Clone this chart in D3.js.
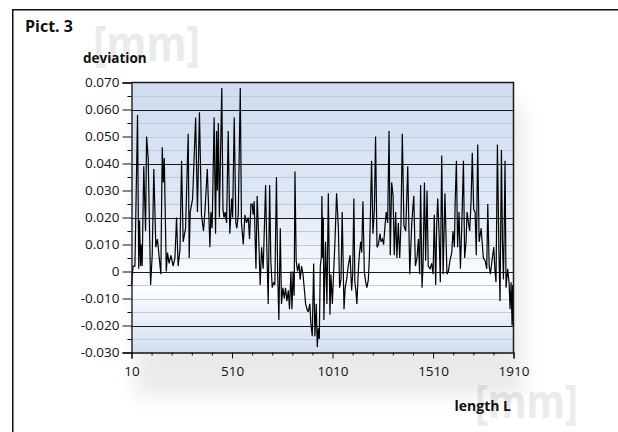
<html>
<script src="https://d3js.org/d3.v7.min.js"></script>
<style>
    body { margin: 0; background: #fff; }
    text { font-family: "Open Sans", sans-serif; fill: #111; }
    .wm { font-family: "Open Sans", sans-serif; font-weight: bold; fill: #ebebeb; }
    .lbl { font-weight: bold; }
</style>
<body>
<script>
    // measured length L [mm]
    var lengths = [10,18,27,40,46,50,55,58,63,71,80,85,93,105,113,121,131,139,156,163,168,173,183,189,197,206,217,226,234,242,251,259,267,279,292,297,302,314,329,338,348,358,368,375,387,400,405,411,421,428,433,437,442,447,459,465,470,476,483,491,499,508,513,521,529,534,541,551,557,566,574,582,591,597,604,610,615,620,629,635,642,650,657,665,677,683,690,697,703,710,717,723,731,737,743,750,756,763,770,776,783,790,796,803,808,814,819,823,829,836,843,849,856,863,869,876,883,889,897,902,909,916,922,929,934,939,944,949,954,957,961,964,967,972,975,982,989,997,1002,1009,1015,1022,1030,1039,1045,1052,1058,1067,1073,1080,1088,1097,1105,1110,1116,1121,1126,1131,1138,1143,1150,1155,1161,1168,1175,1181,1188,1193,1199,1204,1211,1218,1224,1231,1238,1246,1251,1258,1264,1271,1277,1284,1291,1297,1304,1311,1317,1324,1330,1337,1344,1350,1357,1365,1374,1384,1394,1404,1414,1422,1430,1437,1443,1448,1455,1460,1467,1473,1480,1486,1495,1503,1510,1516,1523,1528,1533,1540,1546,1553,1560,1569,1579,1586,1594,1603,1609,1616,1620,1626,1632,1639,1646,1652,1661,1667,1674,1679,1686,1692,1699,1705,1712,1719,1725,1732,1739,1749,1760,1769,1777,1782,1789,1795,1803,1812,1818,1823,1830,1837,1843,1850,1855,1860,1863,1868,1873,1881,1888,1893,1898,1903,1906,1910];

    // deviation, in thousandths of a mm
    var deviation = [-5,2,2,58,1,19,2,10,2,39,15,50,42,-5,6,38,9,12,-1,46,33,42,0,7,3,6,2,5,20,2,8,41,11,16,51,5,22,27,57,22,59,21,15,22,38,9,22,16,57,14,52,30,55,20,68,23,20,22,18,52,14,27,20,57,18,16,21,68,18,10,21,18,20,12,25,25,21,26,1,28,14,-5,9,1,32,9,-12,32,4,-6,-4,-5,35,-1,-18,16,-12,-6,-10,-6,-11,-7,-14,0,-14,0,-9,37,4,0,3,-3,2,-1,-6,-12,-14,-15,-12,-19,-24,3,-24,-12,-28,-21,-25,2,5,28,5,20,-18,0,11,-12,29,-16,-1,-12,-1,11,29,16,-6,-3,22,-14,-6,-3,2,6,-7,-1,27,-4,-7,-12,0,6,11,7,26,0,-4,-6,-3,5,23,41,14,23,50,9,10,14,11,12,10,17,22,18,52,6,33,28,6,22,5,18,5,17,51,17,15,39,-1,18,28,2,5,12,-1,32,-6,2,33,4,30,2,1,3,-1,21,-5,17,27,14,-4,43,-1,29,-1,0,4,7,15,9,26,41,9,22,1,15,41,5,11,22,18,15,26,44,23,22,6,47,11,16,5,4,1,25,2,-1,4,9,0,-4,47,9,-11,45,11,-3,11,41,-6,1,-4,-14,-4,-20,-5,-20];

    var xMajor = [10, 510, 1010, 1510, 1910];
    var xMinor = [110,210,310,410,610,710,810,910,1110,1210,1310,1410,1610,1710,1810];
    var yMajor = [70, 60, 50, 40, 30, 20, 10, 0, -10, -20, -30];
    var yMinor = [65, 55, 45, 35, 25, 15, 5, -5, -15, -25];
    var yGridDark = [60, 40, 20, 0, -20];

    var svg = d3.select("body").append("svg")
        .attr("width", 618).attr("height", 432);

    var defs = svg.append("defs");
    var grad = defs.append("linearGradient").attr("id", "bg")
        .attr("x1", 0).attr("y1", 0).attr("x2", 0).attr("y2", 1);
    grad.append("stop").attr("offset", "0").attr("stop-color", "#cfdcef");
    grad.append("stop").attr("offset", "0.45").attr("stop-color", "#dfe8f5");
    grad.append("stop").attr("offset", "0.76").attr("stop-color", "#fdfeff");
    grad.append("stop").attr("offset", "1").attr("stop-color", "#d3dff0");
    defs.append("filter").attr("id", "blur")
        .attr("x", "-20%").attr("y", "-20%").attr("width", "140%").attr("height", "140%")
        .append("feGaussianBlur").attr("stdDeviation", 10);

    // watermarks
    svg.append("text").attr("class", "wm").attr("x", 93).attr("y", 61)
        .attr("font-size", 49).attr("textLength", 107).attr("lengthAdjust", "spacingAndGlyphs")
        .text("[mm]");
    svg.append("text").attr("class", "wm").attr("x", 475).attr("y", 418)
        .attr("font-size", 47).attr("textLength", 103).attr("lengthAdjust", "spacingAndGlyphs")
        .text("[mm]");

    // frame
    svg.append("path").attr("d", "M12.75,432V9.75H618")
        .attr("fill", "none").attr("stroke", "#111").attr("stroke-width", 1.5);

    var pLeft = 131.5, pRight = 513.5, pTop = 82.5, pBottom = 352.5;
    var xs = d3.scaleLinear().domain([10, 1910]).range([pLeft, pRight]);
    var ys = d3.scaleLinear().domain([-30, 70]).range([pBottom, pTop]);

    // soft shadow under the plot
    svg.append("rect").attr("x", pLeft + 4).attr("y", pTop + 22)
        .attr("width", pRight - pLeft + 6).attr("height", pBottom - pTop + 22)
        .attr("fill", "#000").attr("opacity", 0.08).attr("filter", "url(#blur)");

    svg.append("rect").attr("x", pLeft).attr("y", pTop)
        .attr("width", pRight - pLeft).attr("height", pBottom - pTop)
        .attr("fill", "url(#bg)");

    // light grid
    svg.append("g").selectAll("line")
        .data(yMajor.concat(yMinor).filter(function (d) { return yGridDark.indexOf(d) < 0 && d < 70 && d > -30; }))
        .enter().append("line")
        .attr("x1", pLeft).attr("x2", pRight)
        .attr("y1", function (d) { return Math.round(ys(d)) + 0.5; })
        .attr("y2", function (d) { return Math.round(ys(d)) + 0.5; })
        .attr("stroke", "#b9cbe5").attr("stroke-width", 1);

    // dark grid
    svg.append("g").selectAll("line").data(yGridDark).enter().append("line")
        .attr("x1", pLeft).attr("x2", pRight)
        .attr("y1", function (d) { return Math.round(ys(d)) + 0.5; })
        .attr("y2", function (d) { return Math.round(ys(d)) + 0.5; })
        .attr("stroke", "#1a1a1a").attr("stroke-width", 1);

    // the measured line
    var line = d3.line()
        .x(function (d, i) { return xs(lengths[i]); })
        .y(function (d) { return ys(d); });
    svg.append("path").datum(deviation)
        .attr("d", line)
        .attr("fill", "none").attr("stroke", "#000").attr("stroke-width", 1.2)
        .attr("stroke-linejoin", "miter").attr("stroke-miterlimit", 3);

    // plot border top / right
    svg.append("path").attr("d", "M" + pLeft + "," + pTop + "H" + pRight + "V" + pBottom)
        .attr("fill", "none").attr("stroke", "#1a1a1a").attr("stroke-width", 1.5);

    // y axis
    var yAxis = svg.append("g").attr("transform", "translate(" + pLeft + ",0)");
    yAxis.call(d3.axisLeft(ys).tickValues(yMajor).tickSize(9).tickPadding(3)
        .tickFormat(function (d) { return d == 0 ? "0" : (d < 0 ? "-" : "") + (Math.abs(d) / 1000).toFixed(3); }));
    yAxis.append("g").call(d3.axisLeft(ys).tickValues(yMinor).tickSize(4).tickFormat(""))
        .select(".domain").remove();

    // x axis
    var xAxis = svg.append("g").attr("transform", "translate(0," + pBottom + ")");
    xAxis.call(d3.axisBottom(xs).tickValues(xMajor).tickSize(6).tickPadding(8)
        .tickFormat(function (d) { return String(d); }));
    xAxis.append("g").call(d3.axisBottom(xs).tickValues(xMinor).tickSize(3).tickFormat(""))
        .select(".domain").remove();

    svg.selectAll(".tick line").attr("stroke", "#111");
    svg.selectAll(".domain").attr("stroke", "#111").attr("stroke-width", 1.3);
    svg.selectAll(".tick text").attr("font-family", "Open Sans").attr("font-size", 13.5).attr("fill", "#111");

    // titles
    svg.append("text").attr("class", "lbl").attr("x", 25).attr("y", 32)
        .attr("font-size", 16).text("Pict. 3");
    svg.append("text").attr("class", "lbl").attr("x", 83).attr("y", 63)
        .attr("font-size", 13.5).text("deviation");
    svg.append("text").attr("class", "lbl").attr("x", 511).attr("y", 411)
        .attr("font-size", 14).attr("text-anchor", "end").text("length L");
</script>
</body>
</html>
